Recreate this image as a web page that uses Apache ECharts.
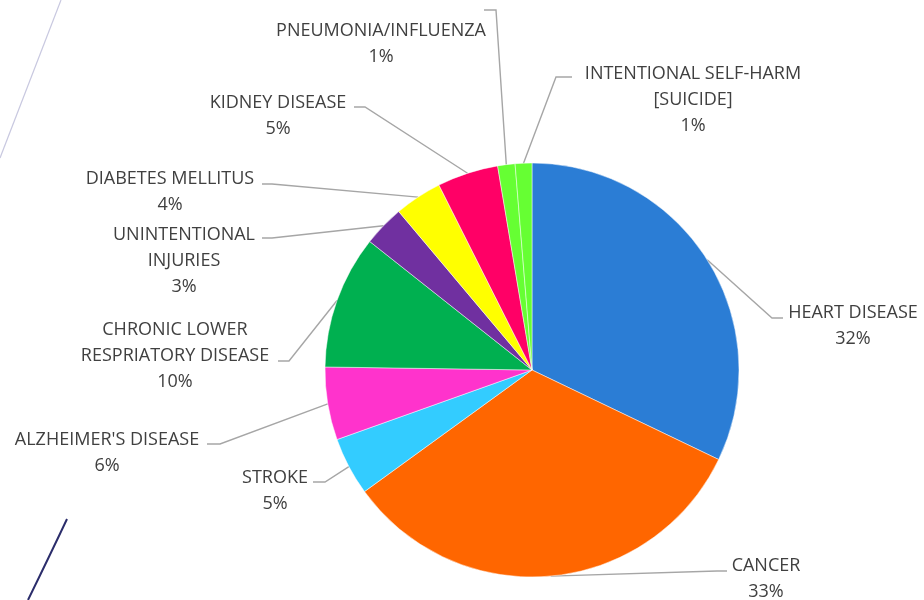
<!DOCTYPE html>
<html>
<head>
<meta charset="utf-8">
<script src="https://cdn.jsdelivr.net/npm/echarts@6/dist/echarts.min.js"></script>
<style>
html,body{margin:0;padding:0;background:#fff;}
#chart{width:924px;height:600px;}
</style>
</head>
<body>
<div id="chart"></div>
<script>
// ---- data ----
const categories = [
  'HEART DISEASE',
  'CANCER',
  'STROKE',
  "ALZHEIMER'S DISEASE",
  'CHRONIC LOWER\nRESPRIATORY DISEASE',
  'UNINTENTIONAL\nINJURIES',
  'DIABETES MELLITUS',
  'KIDNEY DISEASE',
  'PNEUMONIA/INFLUENZA',
  'INTENTIONAL SELF-HARM\n[SUICIDE]'
];
const values = [32.03, 32.8, 4.53, 5.67, 10.4, 3.2, 3.7, 4.75, 1.35, 1.3];
const colors = ['#2B7DD5', '#FF6600', '#33CCFF', '#FF33CC', '#00B050', '#7030A0', '#FFFF00', '#FF0066', '#66FF33', '#66FF33'];

// ---- label placement (layout only): [centerX, firstLineCenterY, elbowX, elbowY, endX] ----
const labelPlace = [
  [853, 311, 772, 318, 783],
  [766, 564, 717, 571, 727],
  [275, 476, 325, 482, 313],
  [107, 438, 220, 444, 207],
  [175, 328, 289, 361, 278],
  [184, 233, 272, 238, 262],
  [170, 177, 272, 184, 262],
  [278, 101, 365, 107, 354],
  [381, 29, 496, 10, 484],
  [693, 72, 556, 77, 572]
];

const CX = 532, CY = 370, R = 207, LH = 26, YSHIFT = 2;
const total = values.reduce((a, b) => a + b, 0);

function edgePoint(i) {
  let cum = 0;
  for (let k = 0; k < i; k++) cum += values[k];
  const mid = (cum + values[i] / 2) / total * Math.PI * 2;
  return [CX + R * Math.sin(mid), CY - R * Math.cos(mid)];
}

const chart = echarts.init(document.getElementById('chart'), null, {renderer: 'canvas'});
chart.setOption({
  backgroundColor: '#ffffff',
  animation: false,
  graphic: [
    {
      type: 'bezierCurve',
      shape: {x1: 0, y1: 158, x2: 61, y2: 0, cpx1: 28, cpy1: 85},
      style: {stroke: '#c8c8e0', lineWidth: 1.2, fill: null},
      silent: true
    },
    {
      type: 'bezierCurve',
      shape: {x1: 28, y1: 600, x2: 67, y2: 519, cpx1: 50, cpy1: 555},
      style: {stroke: '#2b2d6b', lineWidth: 2, fill: null},
      silent: true
    }
  ],
  series: [{
    type: 'pie',
    center: [CX, CY],
    radius: [0, R],
    startAngle: 90,
    clockwise: true,
    avoidLabelOverlap: false,
    itemStyle: {borderColor: 'rgba(255,255,255,0.6)', borderWidth: 0.8},
    label: {
      show: true,
      position: 'outside',
      overflow: 'none',
      color: '#404040',
      fontFamily: '"Open Sans", sans-serif',
      fontSize: 18,
      lineHeight: LH,
      align: 'center',
      formatter: function (p) {
        return p.name + '\n' + Math.round(p.value / total * 100) + '%';
      }
    },
    labelLine: {
      show: true,
      length: 20,
      length2: 10,
      lineStyle: {color: '#a6a6a6', width: 1.4}
    },
    labelLayout: function (params) {
      const i = params.dataIndex;
      const lp = labelPlace[i];
      const start = edgePoint(i);
      return {
        x: lp[0],
        y: lp[1] - LH / 2 + YSHIFT,
        align: 'center',
        verticalAlign: 'top',
        labelLinePoints: [start, [lp[2], lp[3]], [lp[4], lp[3]]]
      };
    },
    emphasis: {disabled: true},
    data: categories.map((c, i) => ({name: c, value: values[i], itemStyle: {color: colors[i]}}))
  }]
});
</script>
</body>
</html>
